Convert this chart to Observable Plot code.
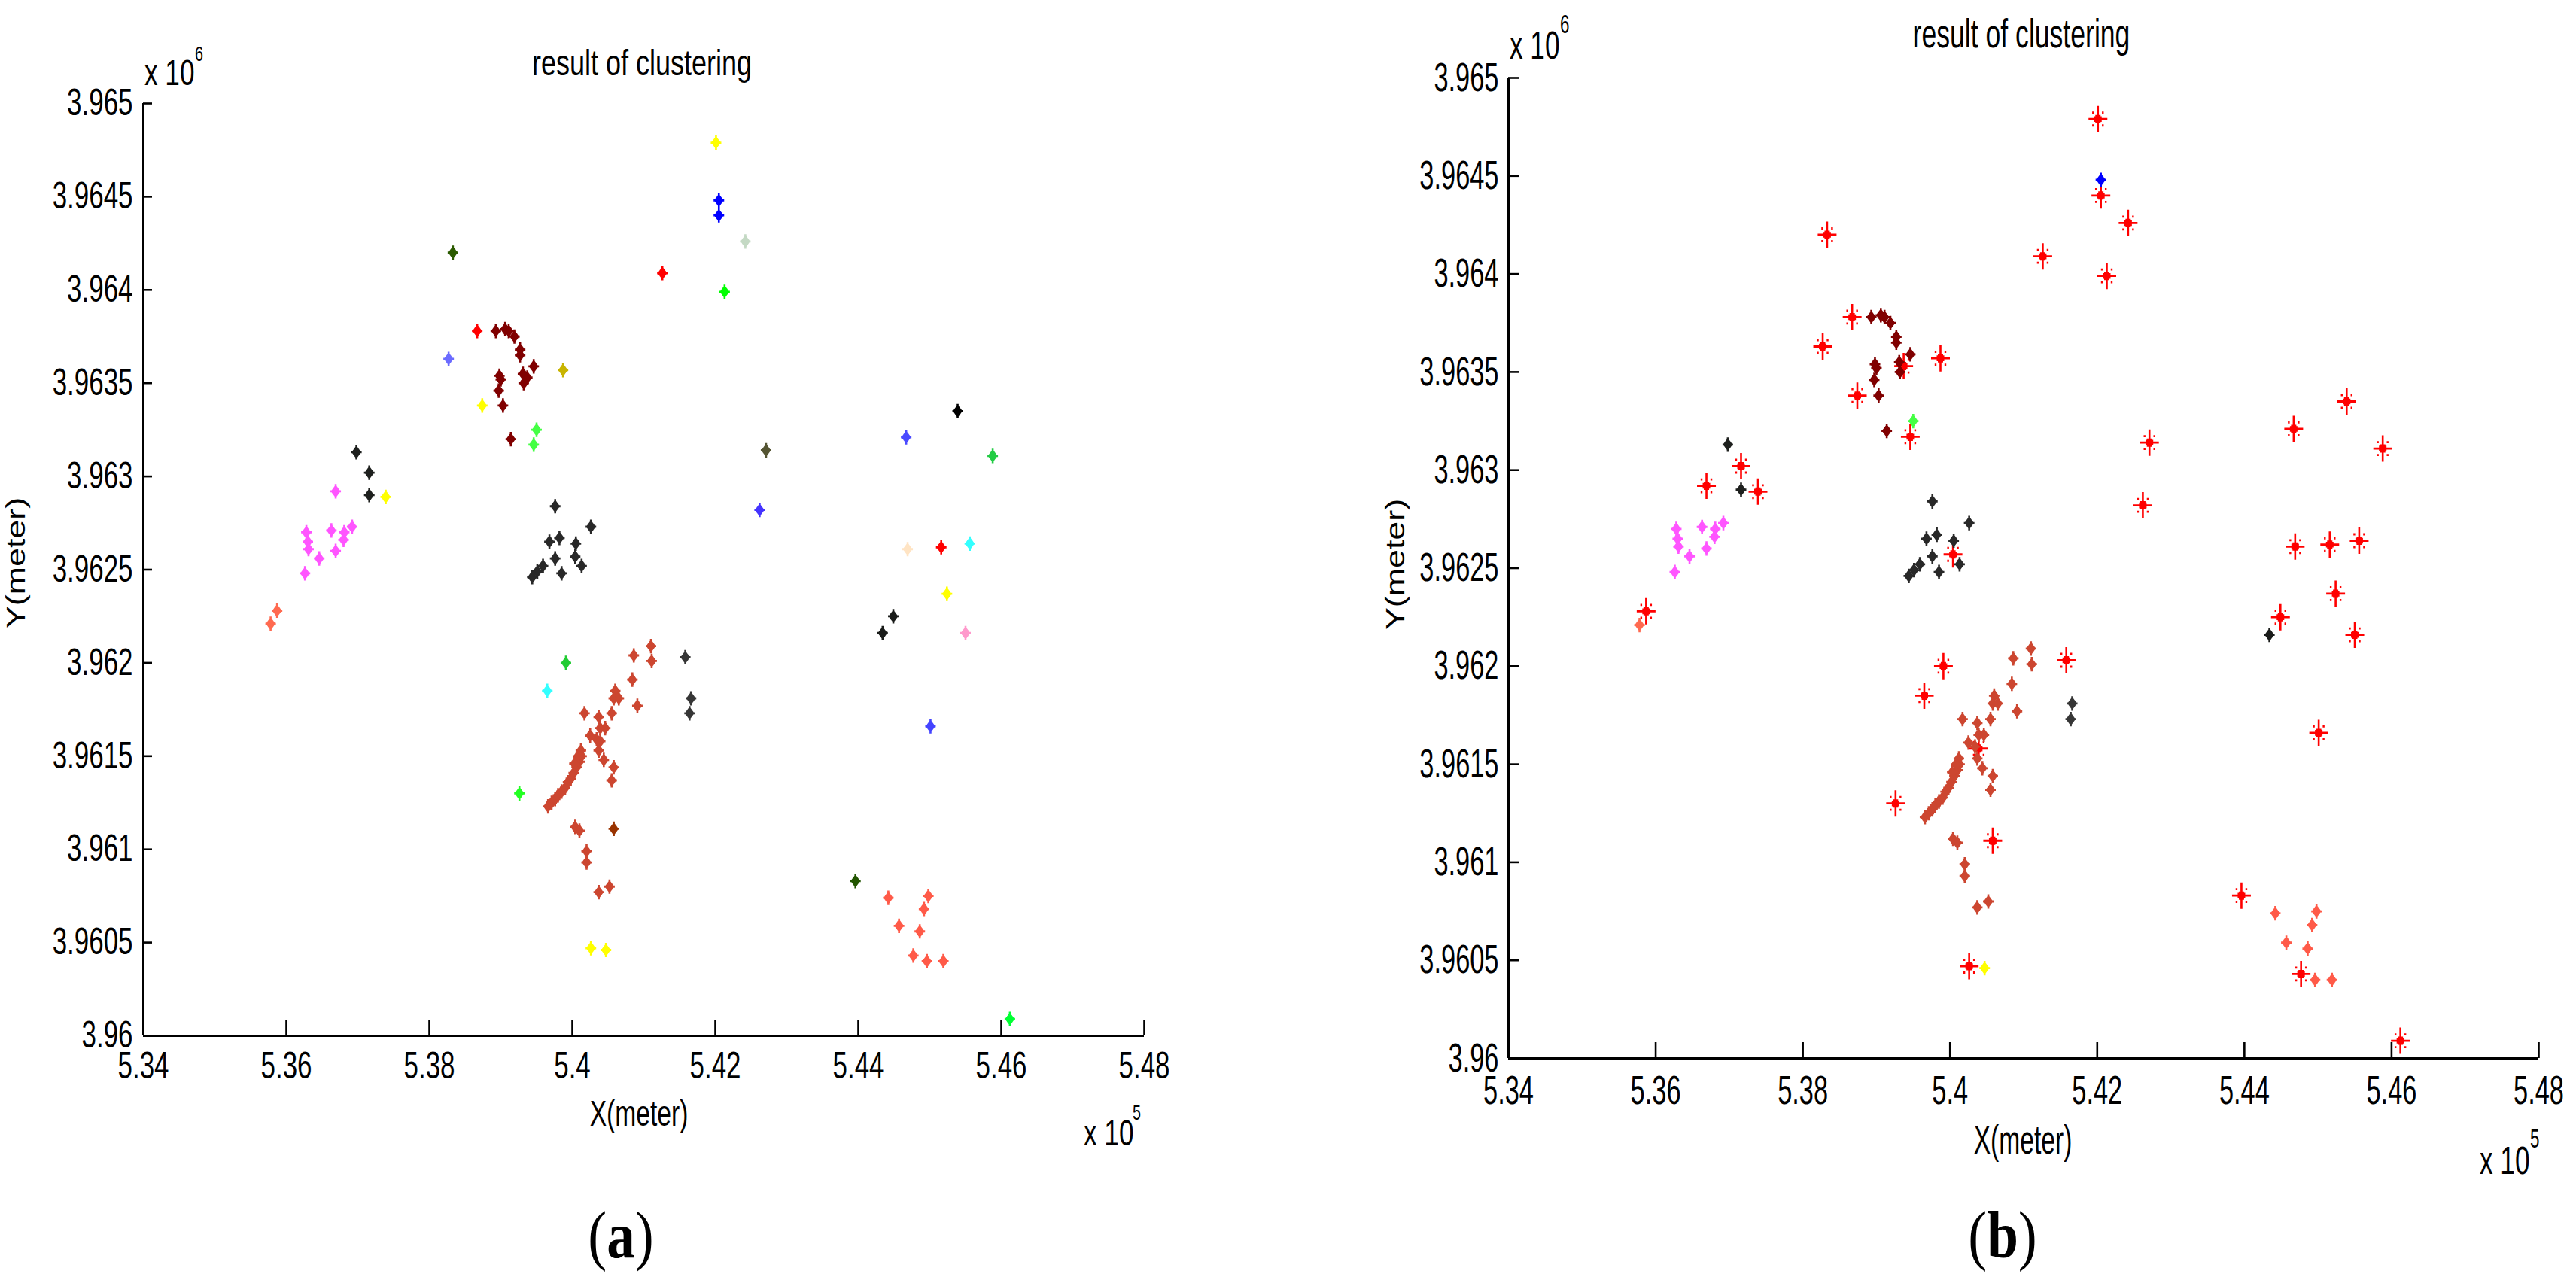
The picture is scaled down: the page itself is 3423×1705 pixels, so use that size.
<!DOCTYPE html>
<html><head><meta charset="utf-8">
<script src="https://cdn.jsdelivr.net/npm/d3@7"></script>
<script src="https://cdn.jsdelivr.net/npm/@observablehq/plot@0.6"></script>
<style>
html,body{margin:0;padding:0;background:#fff;}
#wrap{position:relative;width:3423px;height:1705px;overflow:hidden;background:#fff;}
#wrap > div{position:absolute;top:0;}
</style></head>
<body><div id="wrap"><div id="pa" style="left:0px"></div><div id="pb" style="left:1711px"></div></div>
<script>
// ---------- texts ----------
const TITLE = "result of clustering";
const XLABEL = "X(meter)";
const YLABEL = "Y(meter)";

// ---------- ticks ----------
const X_TICKS = [5.34, 5.36, 5.38, 5.40, 5.42, 5.44, 5.46, 5.48];
const X_TICK_LABELS = ["5.34", "5.36", "5.38", "5.4", "5.42", "5.44", "5.46", "5.48"];
const Y_TICKS = [3.96, 3.9605, 3.961, 3.9615, 3.962, 3.9625, 3.963, 3.9635, 3.964, 3.9645, 3.965];
const Y_TICK_LABELS = ["3.96", "3.9605", "3.961", "3.9615", "3.962", "3.9625", "3.963", "3.9635", "3.964", "3.9645", "3.965"];

// ---------- clusters (panel a colours) ----------
const GROUP_KEYS = ["magenta","salmonW","black1","maroon","gray1","brick","brown","gray2","yellow2","salmonE","blue2","green2","black2",
  "darkgreen1","red1","periwinkle","olive","yellow1","yellow3","green3","cyan1","green4","yellow4","lightgray","red2","green5",
  "black3","blue3","olive2","green6","blue4","peach","red3","cyan2","yellow5","pink","blue5","darkgreen2","green7"];
const GROUP_COLORS = ["#ff55ff","#ff6a50","#1e201e","#800000","#282828","#cc4630","#993300","#363636","#ffff00","#ff5a48","#0000ff","#44ff44","#1a1c1a",
  "#2b5a00","#ff0000","#6b6bff","#c8b400","#ffff00","#ffff00","#22cc33","#33ffff","#22ff22","#ffff00","#c4d9c4","#ff0000","#00ff00",
  "#000000","#4b4bff","#555533","#22cc44","#4433ff","#ffe4c4","#ff0000","#33ffff","#ffff00","#ff99cc","#4444ff","#225500","#00ff33"];

// ---------- points: X (x10^5 m), Y (x10^6 m), cluster, noise flag in panel b ----------
const PX = [
  5.3669,5.3628,5.3630,5.3631,5.3646,5.3663,5.3669,5.3681,5.3680,5.3692,5.3626,
  5.3587,5.3578,
  5.3698,5.3716,5.3716,
  5.3893,5.3906,5.3911,5.3919,5.3927,5.3927,5.3946,5.3898,5.3900,5.3897,5.3903,5.3931,5.3937,5.3932,5.3914,
  5.3976,5.4026,5.3968,5.3982,5.4005,5.3976,5.4004,5.4013,5.3959,5.3944,5.3951,5.3985,
  5.4086,5.4084,5.4091,5.4060,5.4058,5.4065,5.4055,5.4017,5.4037,5.4039,5.4046,5.4025,5.4034,5.4039,5.4037,5.4044,5.4058,5.4055,
  5.3966,5.3971,5.3976,5.3980,5.3985,5.3990,5.3994,5.3998,5.4002,5.4006,5.4010,5.4013,5.4012,5.4008,5.4003,
  5.4004,5.4010,5.4020,5.4020,5.4037,5.4052,5.4110,5.4111,
  5.4058,
  5.4158,5.4166,5.4164,
  5.4026,5.4047,
  5.4442,5.4498,5.4492,5.4457,5.4486,5.4477,5.4496,5.4519,
  5.4205,5.4205,
  5.3950,5.3946,
  5.4449,5.4434,
  5.3833,5.3867,5.3827,5.3987,5.3874,5.3739,5.3991,5.3965,5.3926,5.4201,5.4242,5.4126,5.4213,
  5.4539,5.4467,5.4271,5.4588,5.4262,5.4469,5.4516,5.4556,5.4524,5.4550,5.4501,5.4396,5.4612
];
const PY = [
  3.96292,3.96270,3.96265,3.96261,3.96256,3.96271,3.96260,3.96270,3.96266,3.96273,3.96248,
  3.96228,3.96221,
  3.96313,3.96302,3.96290,
  3.96378,3.96379,3.96378,3.96375,3.96368,3.96365,3.96359,3.96354,3.96352,3.96346,3.96338,3.96355,3.96353,3.96350,3.96320,
  3.96284,3.96273,3.96265,3.96267,3.96264,3.96256,3.96257,3.96252,3.96252,3.96246,3.96249,3.96248,
  3.96204,3.96191,3.96177,3.96185,3.96181,3.96181,3.96173,3.96173,3.96171,3.96165,3.96165,3.96161,3.96159,3.96158,3.96153,3.96148,3.96144,3.96137,
  3.96123,3.96125,3.96127,3.96129,3.96131,3.96133,3.96136,3.96138,3.96141,3.96144,3.96147,3.96150,3.96153,3.96150,3.96146,
  3.96112,3.96110,3.96099,3.96093,3.96077,3.96080,3.96209,3.96201,
  3.96111,
  3.96203,3.96181,3.96173,
  3.96047,3.96046,
  3.96074,3.96075,3.96068,3.96059,3.96056,3.96043,3.96040,3.96040,
  3.96448,3.96440,
  3.96325,3.96317,
  3.96225,3.96216,
  3.96420,3.96378,3.96363,3.96357,3.96338,3.96289,3.96200,3.96185,3.96130,3.96479,3.96426,3.96409,3.96399,
  3.96335,3.96321,3.96314,3.96311,3.96282,3.96261,3.96262,3.96264,3.96237,3.96216,3.96166,3.96083,3.96009
];
const PG = [
  ...Array(11).fill("magenta"),
  "salmonW","salmonW",
  "black1","black1","black1",
  ...Array(15).fill("maroon"),
  ...Array(12).fill("gray1"),
  ...Array(41).fill("brick"),
  "brown",
  "gray2","gray2","gray2",
  "yellow2","yellow2",
  ...Array(8).fill("salmonE"),
  "blue2","blue2",
  "green2","green2",
  "black2","black2",
  "darkgreen1","red1","periwinkle","olive","yellow1","yellow3","green3","cyan1","green4","yellow4","lightgray","red2","green5",
  "black3","blue3","olive2","green6","blue4","peach","red3","cyan2","yellow5","pink","blue5","darkgreen2","green7"
];
const PNB = [
  1,0,0,0,0,0,0,0,0,0,0,
  1,0,
  0,1,0,
  0,0,0,0,0,0,0,0,0,0,0,0,1,0,0,
  0,0,0,0,0,0,1,0,0,0,0,0,
  0,0,0,0,0,0,0,0,0,0,0,0,0,1,0,0,0,0,
  0,0,0,0,0,0,0,0,0,0,0,0,0,0,0,
  0,0,0,0,0,0,0,0,
  1,
  1,0,0,
  1,0,
  0,0,0,0,0,1,0,0,
  0,1,
  0,1,
  1,0,
  1,1,1,1,1,1,1,1,1,1,1,1,1,
  1,1,1,1,1,1,1,1,1,1,1,1,1
];

const FONT = "'Liberation Sans', Arial, Helvetica, sans-serif";

// MATLAB-like diamond marker (taller than wide)
const diamond = {draw(c, size) {
  const k = Math.sqrt(size / Math.PI) / 7;
  const hw = 6.4 * k, hh = 8.8 * k;
  c.moveTo(0, -hh); c.lineTo(hw, 0); c.lineTo(0, hh); c.lineTo(-hw, 0); c.closePath();
  c.rect(-1.3 * k, -9.6 * k, 2.6 * k, 19.2 * k);
  c.rect(-7.0 * k, -1.4 * k, 14 * k, 2.8 * k);
  c.rect(-3.6 * k, -4.2 * k, 7.2 * k, 8.4 * k);
}};
// asterisk marker for noise points
const asterisk = {draw(c, size) {
  const k = Math.sqrt(size / Math.PI) / 7;
  c.rect(-1.3 * k, -17.5 * k, 2.6 * k, 35 * k);
  c.rect(-12.5 * k, -1.4 * k, 25 * k, 2.8 * k);
  c.rect(-3.5 * k, -5.5 * k, 7 * k, 11 * k);
  c.rect(-5 * k, -3.8 * k, 10 * k, 7.6 * k);
  for (const [dx, dy] of [[-6.5, -8.5], [6.5, -8.5], [-6.5, 8.5], [6.5, 8.5]])
    c.rect((dx - 1.2) * k, (dy - 1.4) * k, 2.4 * k, 2.8 * k);
}};

function makePanel(o) {
  const pts = PX.map((x, i) => ({x, y: PY[i], g: PG[i], nb: PNB[i]}));
  const plain = o.showNoise ? pts.filter(d => !d.nb) : pts;
  const noise = o.showNoise ? pts.filter(d => d.nb) : [];
  const fmtX = d => X_TICK_LABELS[X_TICKS.indexOf(d)];
  const fmtY = d => Y_TICK_LABELS[Y_TICKS.indexOf(d)];
  const svg = Plot.plot({
    width: o.width, height: 1705,
    marginLeft: o.ml, marginRight: o.mr, marginTop: o.mt, marginBottom: o.mb,
    style: {fontFamily: FONT, fontSize: "40px", color: "black", background: "transparent", overflow: "visible"},
    x: {domain: [X_TICKS[0], X_TICKS[X_TICKS.length - 1]]},
    y: {domain: [Y_TICKS[0], Y_TICKS[Y_TICKS.length - 1]]},
    color: {type: "ordinal", domain: GROUP_KEYS, range: GROUP_COLORS},
    marks: [
      Plot.axisX({ticks: X_TICKS, tickFormat: fmtX, tickSize: -o.xTick, tickPadding: o.xTick + o.xPad, strokeWidth: 2.6, fontSize: 40, label: null}),
      Plot.axisY({ticks: Y_TICKS, tickFormat: fmtY, tickSize: -o.yTick, tickPadding: o.yTick + o.yPad, strokeWidth: 2.6, fontSize: 40, label: null}),
      Plot.ruleY([Y_TICKS[0]], {stroke: "black", strokeWidth: 3}),
      Plot.ruleX([X_TICKS[0]], {stroke: "black", strokeWidth: 3}),
      Plot.dot(noise, {x: "x", y: "y", symbol: asterisk, r: 7, fill: "#ff0000", stroke: "none"}),
      Plot.dot(plain, {x: "x", y: "y", symbol: diamond, r: 7, fill: "g", stroke: "none"})
    ]
  });
  // stretch tick labels like the (vertically stretched) original bitmap font
  svg.querySelectorAll('g[aria-label$="tick label"] text').forEach(t => {
    const tr = t.getAttribute("transform") || "";
    t.setAttribute("transform", `${tr} scale(${o.tsx},${o.tsy})`);
  });
  return svg;
}

document.getElementById("pa").appendChild(makePanel({
  showNoise: false, width: 1711, ml: 190, mr: 191, mt: 137, mb: 329,
  xTick: 20, yTick: 12, xPad: 22, yPad: 14, tsx: 0.874, tsy: 1.23
}));
document.getElementById("pb").appendChild(makePanel({
  showNoise: true, width: 1712, ml: 293, mr: 50, mt: 103, mb: 299,
  xTick: 21, yTick: 15, xPad: 22, yPad: 13, tsx: 0.86, tsy: 1.34
}));

// ---------- annotation text overlay ----------
const ov = d3.select("#wrap").append("svg")
  .attr("width", 3423).attr("height", 1705)
  .style("position", "absolute").style("left", "0").style("top", "0").style("pointer-events", "none");
function label(x, y, str, {size = 40, sx = 1, sy = 1, anchor = "start", family = FONT, rotate = 0} = {}) {
  return ov.append("text")
    .attr("transform", `translate(${x},${y})${rotate ? ` rotate(${rotate})` : ""} scale(${sx},${sy})`)
    .attr("text-anchor", anchor).attr("font-family", family).attr("font-size", size).attr("fill", "black")
    .text(str);
}
function panelTag(x, y, letter) {
  const t = ov.append("text")
    .attr("transform", `translate(${x},${y}) scale(1,1.19)`)
    .attr("text-anchor", "middle").attr("font-family", "'Liberation Serif', 'Times New Roman', serif")
    .attr("font-size", 75).attr("fill", "black");
  t.append("tspan").text("(");
  t.append("tspan").attr("font-weight", "bold").text(letter);
  t.append("tspan").text(")");
}

// panel a
label(853, 100, TITLE, {anchor: "middle", sx: 0.90, sy: 1.20});
label(192, 113, "x 10", {sx: 0.88, sy: 1.20});
label(259, 81, "6", {size: 23, sx: 0.86, sy: 1.22});
label(849, 1496, XLABEL, {anchor: "middle", sx: 0.84, sy: 1.22});
label(1440, 1522, "x 10", {sx: 0.88, sy: 1.20});
label(1505, 1488, "5", {size: 23, sx: 0.86, sy: 1.22});
label(33, 748, YLABEL, {anchor: "middle", rotate: -90, sx: 1.12, sy: 0.9});
panelTag(825, 1671, "a");

// panel b
label(2686, 63, TITLE, {anchor: "middle", sx: 0.89, sy: 1.34});
label(2006, 78, "x 10", {sx: 0.88, sy: 1.30});
label(2073, 44, "6", {size: 26, sx: 0.86, sy: 1.34});
label(2688, 1533, XLABEL, {anchor: "middle", sx: 0.84, sy: 1.34});
label(3295, 1560, "x 10", {sx: 0.88, sy: 1.30});
label(3362, 1525, "5", {size: 26, sx: 0.86, sy: 1.34});
label(1866, 750, YLABEL, {anchor: "middle", rotate: -90, sx: 1.12, sy: 0.9});
panelTag(2661, 1671, "b");
</script>
</body></html>
